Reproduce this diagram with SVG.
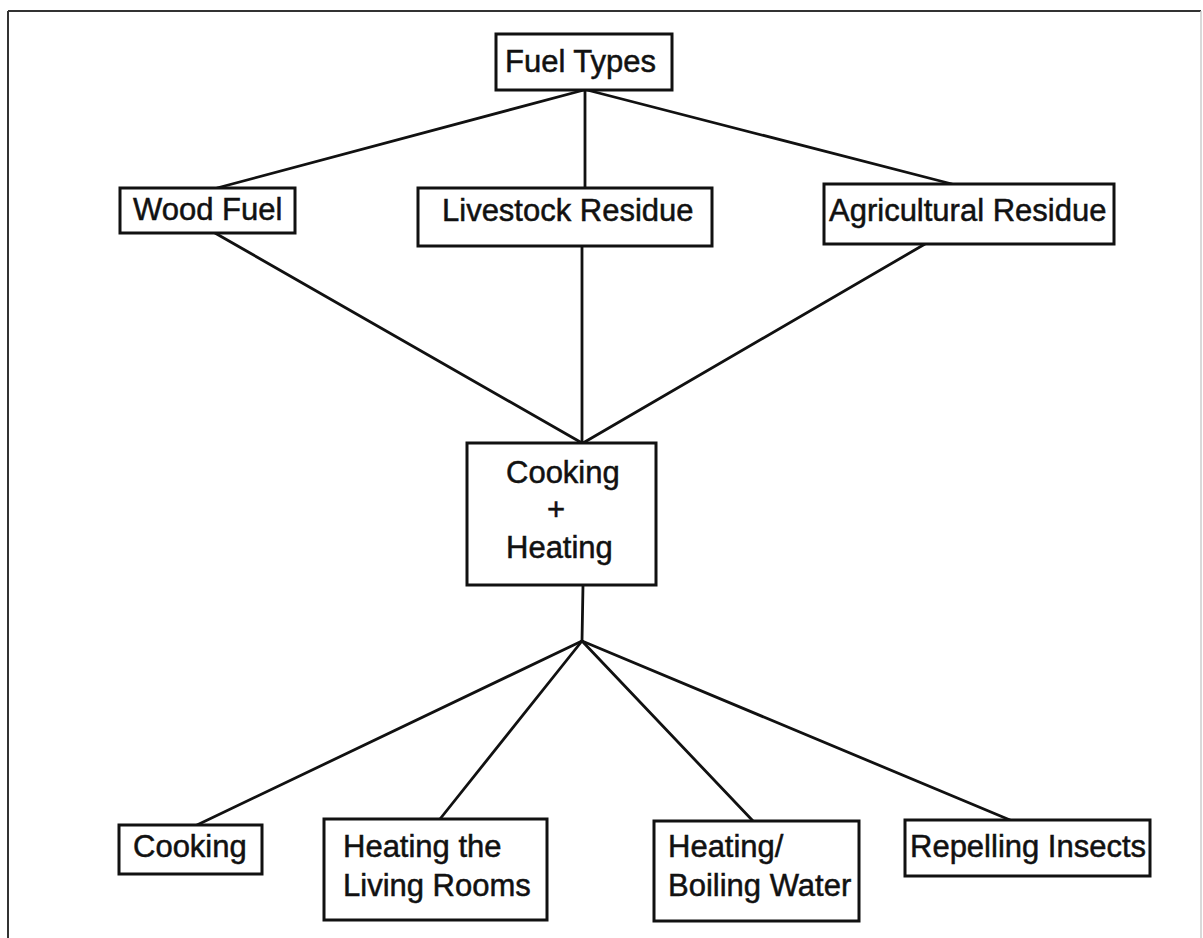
<svg xmlns="http://www.w3.org/2000/svg" width="1203" height="938" viewBox="0 0 1203 938">
<style>
.box{fill:#fff;stroke:#111;stroke-width:3}
.lbl{font-family:"Liberation Sans",Arial,sans-serif;font-size:31px;fill:#111;stroke:#111;stroke-width:0.5}
.c{text-anchor:middle}
.conn line{stroke:#111;stroke-width:2.8;stroke-linecap:round}
</style>
<rect width="1203" height="938" fill="#fff"/>
<g id="frame">
<line x1="8" y1="11" x2="1201" y2="11" stroke="#333" stroke-width="2"/>
<line x1="8" y1="11" x2="8" y2="938" stroke="#333" stroke-width="2"/>
<line x1="1201" y1="11" x2="1201" y2="938" stroke="#ccc" stroke-width="1.5"/>
</g>
<g id="connectors" class="conn">
<line x1="584" y1="90" x2="217" y2="188"/>
<line x1="585" y1="90" x2="585" y2="188"/>
<line x1="587" y1="90" x2="952" y2="184"/>
<line x1="215" y1="233" x2="582" y2="443"/>
<line x1="582" y1="246" x2="582" y2="443"/>
<line x1="925" y1="244" x2="583" y2="443"/>
<line x1="583" y1="585" x2="582" y2="641"/>
<line x1="582" y1="641" x2="197" y2="825"/>
<line x1="582" y1="641" x2="440" y2="819"/>
<line x1="582" y1="641" x2="753" y2="821"/>
<line x1="582" y1="641" x2="1010" y2="820"/>
</g>
<g id="fuel-types"><rect class="box" x="496" y="34" width="176" height="56"/><text class="lbl" x="505" y="72">Fuel Types</text></g>
<g id="wood-fuel"><rect class="box" x="120" y="188" width="175" height="45"/><text class="lbl" x="133" y="220">Wood Fuel</text></g>
<g id="livestock-residue"><rect class="box" x="418" y="188" width="294" height="58"/><text class="lbl" x="442" y="221">Livestock Residue</text></g>
<g id="agricultural-residue"><rect class="box" x="824" y="184" width="290" height="60"/><text class="lbl" x="829" y="221">Agricultural Residue</text></g>
<g id="cooking-heating"><rect class="box" x="467" y="443" width="189" height="142"/>
<text class="lbl" x="506" y="483">Cooking</text>
<text class="lbl c" x="556" y="520">+</text>
<text class="lbl" x="506" y="558">Heating</text></g>
<g id="cooking"><rect class="box" x="119" y="825" width="143" height="49"/><text class="lbl" x="133" y="857">Cooking</text></g>
<g id="heating-living-rooms"><rect class="box" x="324" y="819" width="223" height="101"/>
<text class="lbl" x="343" y="857">Heating the</text>
<text class="lbl" x="343" y="896">Living Rooms</text></g>
<g id="heating-boiling-water"><rect class="box" x="654" y="821" width="205" height="100"/>
<text class="lbl" x="668" y="857">Heating/</text>
<text class="lbl" x="668" y="896">Boiling Water</text></g>
<g id="repelling-insects"><rect class="box" x="905" y="820" width="245" height="56"/><text class="lbl" x="910" y="857">Repelling Insects</text></g>
</svg>
